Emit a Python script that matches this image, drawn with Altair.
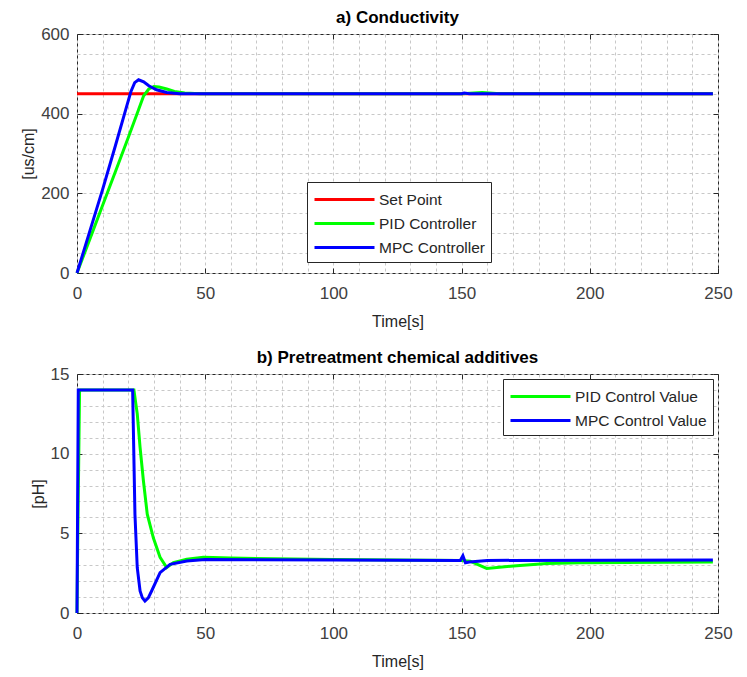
import altair as alt
import pandas as pd

# ---------------- data ----------------
cond_names = ["Set Point", "PID Controller", "MPC Controller"]
cond_colors = ["#ff0000", "#00ff00", "#0000ff"]

sp_t = [0, 248]
sp_v = [450, 450]

pid_c_t = [0, 5, 10, 15, 20, 24, 26, 28, 30, 32, 35, 38, 42, 48, 150, 158, 165, 248]
pid_c_v = [0, 85, 170, 255, 340, 410, 445, 462, 468, 467, 462, 456, 452, 450, 450, 453, 450, 450]

mpc_c_t = [0, 5, 10, 15, 19, 21, 22.5, 24, 26, 28, 31, 35, 40, 45, 150, 151, 153, 248]
mpc_c_v = [0, 105, 210, 320, 410, 455, 478, 485, 480, 470, 460, 453, 450, 450, 450, 452, 450, 450]

ph_names = ["PID Control Value", "MPC Control Value"]
ph_colors = ["#00ff00", "#0000ff"]

pid_p_t = [0, 0.2, 1.0, 22.2, 23.5, 24.6, 25.9, 27.4, 29.8, 32.4, 35, 37.6, 42.8, 49.3, 60,
           100, 150, 153.3, 159.8, 170.2, 183.2, 196.2, 248]
pid_p_v = [0, 3.3, 14, 14, 12.5, 10.4, 8.3, 6.2, 4.7, 3.5, 2.85, 3.16, 3.37, 3.5, 3.45,
           3.35, 3.3, 3.25, 2.8, 2.95, 3.1, 3.16, 3.2]

mpc_p_t = [0, 0.5, 21.7, 22.6, 23.5, 24.6, 25.5, 26.5, 27.8, 29.1, 32.4, 36.3, 42.8, 50, 100, 149.5,
           150.5, 151.5, 153, 160, 248]
mpc_p_v = [0, 14, 14, 6.2, 2.84, 1.38, 0.95, 0.75, 0.95, 1.38, 2.53, 3.05, 3.26, 3.35, 3.33, 3.3,
           3.6, 3.15, 3.2, 3.3, 3.33]

x_major = [0, 50, 100, 150, 200, 250]
x_minor = list(range(0, 251, 10))
cond_major = [0, 200, 400, 600]
cond_minor = list(range(0, 601, 50))
ph_major = [0, 5, 10, 15]
ph_minor = list(range(0, 16, 1))


def frame(names, ts, vs):
    rows = []
    for n, tt, vv in zip(names, ts, vs):
        for a, b in zip(tt, vv):
            rows.append({"series": n, "t": a, "v": b})
    return pd.DataFrame(rows)


cond_df = frame(cond_names, [sp_t, pid_c_t, mpc_c_t], [sp_v, pid_c_v, mpc_c_v])
ph_df = frame(ph_names, [pid_p_t, mpc_p_t], [pid_p_v, mpc_p_v])

W, H = 641, 239
FONT = "Liberation Sans"


def panel(df, names, colors, ydom, ymaj, ymin, ytitle, title, lx, ly):
    xs = alt.Scale(domain=[0, 250], nice=False, zero=False)
    ys = alt.Scale(domain=ydom, nice=False, zero=False)
    base = alt.Chart(df)

    grid = base.mark_line(opacity=0).encode(
        x=alt.X("t:Q", scale=xs, axis=alt.Axis(orient="bottom", values=x_minor, grid=True,
                                                labels=False, ticks=False, domain=False, title=None,
                                                gridDash=[3, 3], gridColor="#c8c8c8", gridWidth=1)),
        y=alt.Y("v:Q", scale=ys, axis=alt.Axis(orient="left", values=ymin, grid=True,
                                                labels=False, ticks=False, domain=False, title=None,
                                                gridDash=[3, 3], gridColor="#c8c8c8", gridWidth=1)),
        detail="series:N",
    )

    def tick_layer(xo, yo):
        return base.mark_line(opacity=0).encode(
            x=alt.X("t:Q", scale=xs, axis=alt.Axis(orient=xo, values=x_major, grid=False,
                                                    labels=False, ticks=True, tickSize=5,
                                                    tickColor="#262626", domain=False,
                                                    title=None, offset=-5)),
            y=alt.Y("v:Q", scale=ys, axis=alt.Axis(orient=yo, values=ymaj, grid=False,
                                                    labels=False, ticks=True, tickSize=5,
                                                    tickColor="#262626", domain=False,
                                                    title=None, offset=-5)),
            detail="series:N",
        )

    lines = base.mark_line(strokeWidth=3).encode(
        x=alt.X("t:Q", scale=xs, axis=alt.Axis(orient="bottom", values=x_major, grid=False,
                                                ticks=False, domain=False, title="Time[s]",
                                                labelPadding=12, titlePadding=12,
                                                labelFlush=False)),
        y=alt.Y("v:Q", scale=ys, axis=alt.Axis(orient="left", values=ymaj, grid=False,
                                                ticks=False, domain=False, title=ytitle,
                                                labelPadding=8, titlePadding=4)),
        color=alt.Color("series:N", sort=names,
                        scale=alt.Scale(domain=names, range=colors),
                        legend=alt.Legend(title=None, orient="none", legendX=lx, legendY=ly,
                                          symbolType="M-1,0H5", symbolSize=400,
                                          symbolStrokeWidth=3, labelFontSize=15.5,
                                          labelFont=FONT, labelColor="#262626",
                                          labelOffset=43, fillColor="white",
                                          strokeColor="#262626", padding=6, rowPadding=4,
                                          labelLimit=300)),
        order=alt.Order("t:Q"),
    )

    return alt.layer(grid, tick_layer("bottom", "left"), tick_layer("top", "right"), lines).resolve_axis(
        x="independent", y="independent"
    ).properties(width=W, height=H, title=title)


top = panel(cond_df, cond_names, cond_colors, [0, 600], cond_major, cond_minor,
            "[us/cm]", "a) Conductivity", 230, 148)
bottom = panel(ph_df, ph_names, ph_colors, [0, 15], ph_major, ph_minor,
               "[pH]", "b) Pretreatment chemical additives", 426, 5)

chart = alt.vconcat(top, bottom, spacing=18).resolve_scale(color="independent").configure(
    padding={"left": 12, "top": 0, "right": 5, "bottom": 0},
).configure_view(
    stroke="#262626", strokeWidth=1
).configure_axis(
    labelFont=FONT, labelFontSize=17, labelColor="#404040",
    titleFont=FONT, titleFontSize=16, titleFontWeight="normal", titleColor="#262626",
).configure_title(
    font=FONT, fontSize=17, fontWeight="bold", color="#000000", offset=-2, anchor="middle"
)

chart.save("out.html", embed_options={"renderer": "svg", "actions": False})
